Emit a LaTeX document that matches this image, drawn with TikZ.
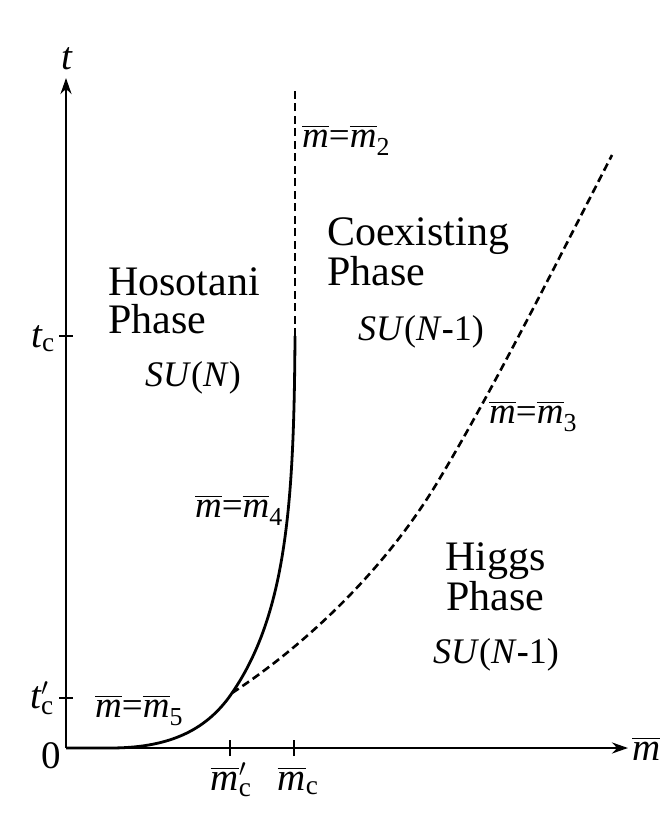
\documentclass[tikz,border=0pt]{standalone}
\usepackage{amsmath}
\usepackage{fontspec}
\setmainfont{Liberation Serif}
\usetikzlibrary{arrows.meta}
\newcommand{\mb}{\overline{\text{\itshape m}}}
\newcommand{\iv}[1]{\text{\itshape #1}}
\newcommand{\mn}{{\bfseries -}}
\begin{document}
\begin{tikzpicture}[x=1pt,y=-1pt,
  ax/.style={line width=2.8pt},
  curve/.style={line width=2.8pt},
  dcurve/.style={line width=2.6pt, dash pattern=on 8pt off 4.5pt},
  lab/.style={font=\fontsize{37}{40}\selectfont, inner sep=0pt, anchor=base west},
  sul/.style={font=\fontsize{36}{40}\selectfont, inner sep=0pt, anchor=base west},
  big/.style={font=\fontsize{39}{44}\selectfont, inner sep=0pt},
  phase/.style={font=\fontsize{42}{44}\selectfont, inner sep=0pt, anchor=base west},
  tip/.style={-{Stealth[length=16pt,width=11pt]}}]
\useasboundingbox (0,0) rectangle (665,835);
% axes
\coordinate (O) at (66,748);
\coordinate (ytop) at (66,78);
\coordinate (xend) at (628,748);
\draw[ax,tip] (O) -- (ytop);
\draw[ax,tip] (O) -- (xend);
% ticks
\coordinate (tc) at (66,336);
\coordinate (tcp) at (66,698);
\coordinate (mcp) at (230,748);
\coordinate (mc) at (294,748);
\draw[ax] ([xshift=-7pt]tc) -- ([xshift=7pt]tc);
\draw[ax] ([xshift=-7pt]tcp) -- ([xshift=7pt]tcp);
\draw[ax] ([yshift=-8pt]mcp) -- ([yshift=8pt]mcp);
\draw[ax] ([yshift=-8pt]mc) -- ([yshift=8pt]mc);
% axis labels
\node[big, anchor=base] (tlab) at (67,69) {$\iv{t}$};
\node[big, anchor=base west] (mlab) at (632,760) {$\mb$};
\node[big, anchor=base east] (zero) at (61,768) {0};
\node[big, anchor=base east] (tclab) at (55,347) {$\iv{t}_{\text{c}}$};
\node[big, anchor=base east] (tcplab) at (54,708) {$\iv{t}'_{\text{c}}$};
\node[big, anchor=base] (mcplab) at (231,790) {$\mb'_{\text{c}}$};
\node[big, anchor=base] (mclab) at (298,790) {$\mb_{\text{c}}$};
% curves
\coordinate (A) at (110,748);
\coordinate (J) at (232,693);
\coordinate (C) at (295,336);
\coordinate (Ctop) at (295,88);
\coordinate (M) at (437,483);
\coordinate (E) at (612,155);
\draw[curve] (O) -- (A) .. controls (165,748) and (205,733) .. (J)
  .. controls (287,613) and (294,500) .. (C);
\draw[dcurve] (C) -- (Ctop);
\draw[dcurve] (J) .. controls (292,654) and (377,582) .. (M)
  .. controls (492,392) and (557,262) .. (E);
% line labels
\node[lab] (l2) at (302,147) {$\mb\text{=}\mb_{\text{2}}$};
\node[lab] (l3) at (489,423) {$\mb\text{=}\mb_{\text{3}}$};
\node[lab, anchor=base east] (l4) at (283,517) {$\mb\text{=}\mb_{\text{4}}$};
\node[lab] (l5) at (95,717) {$\mb\text{=}\mb_{\text{5}}$};
% phases
\node[phase] (hos1) at (108,295) {Hosotani};
\node[phase] (hos2) at (108,333) {Phase};
\node[sul] (hsu) at (145,386) {\textit{SU}(\textit{N})};
\node[phase] (coe1) at (327,245) {Coexisting};
\node[phase] (coe2) at (327,285) {Phase};
\node[sul] (csu) at (358,340) {\textit{SU}(\textit{N}\mn1)};
\node[phase] (hig1) at (445,570) {Higgs};
\node[phase] (hig2) at (446,610) {Phase};
\node[sul] (hsu2) at (433,663) {\textit{SU}(\textit{N}\mn1)};
\end{tikzpicture}
\end{document}
